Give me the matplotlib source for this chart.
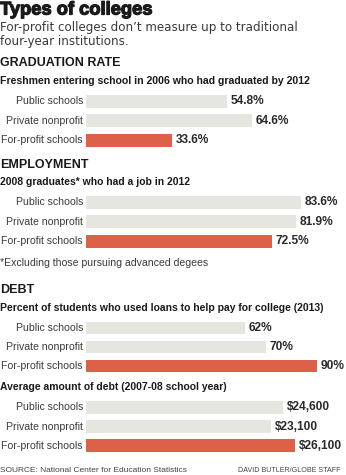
import matplotlib.pyplot as plt
import matplotlib.patheffects as pe

# chart data
categories = ["Public schools", "Private nonprofit", "For-profit schools"]
grad_rate = [54.8, 64.6, 33.6]
employment = [83.6, 81.9, 72.5]
loan_pct = [62, 70, 90]
avg_debt = [24600, 23100, 26100]

grad_labels = ["54.8%", "64.6%", "33.6%"]
emp_labels = ["83.6%", "81.9%", "72.5%"]
loan_labels = ["62%", "70%", "90%"]
debt_labels = ["$24,600", "$23,100", "$26,100"]

W, H = 346, 475
GRAY = "#e6e6e0"
RED = "#dd6049"
DARK = "#1a1a1a"
MID = "#3a3a3a"

plt.rcParams["font.family"] = ["Liberation Sans", "DejaVu Sans"]

fig = plt.figure(figsize=(W / 100, H / 100), dpi=100)
fig.patch.set_facecolor("white")


def fx(px):
    return px / W


def fy(py):
    return 1 - py / H


def put(x, y, s, **kw):
    return fig.text(fx(x), fy(y), s, va="center", **kw)


def bars(top, bottom, values, labels, xmax):
    # one small axes per group, x starts where the bars start
    left = 86
    ax = fig.add_axes([fx(left), fy(bottom), fx(W - left), (bottom - top) / H])
    colors = [GRAY, GRAY, RED]
    ypos = range(len(values))
    ax.barh(ypos, values, height=0.68, color=colors)
    for y, v, lab in zip(ypos, values, labels):
        ax.text(v + xmax * 0.014, y, lab, va="center", ha="left",
                fontsize=8.6, fontweight="bold", color="#2a2a2a")
    ax.set_xlim(0, xmax)
    ax.set_ylim(2.5, -0.5)
    ax.axis("off")
    for y, c in zip(ypos, categories):
        ax.text(-xmax * 0.012, y, c, va="center", ha="right",
                fontsize=7.6, color=MID)


# titles
title = put(0, 10, "Types of colleges", fontsize=13.2, fontweight="bold",
            color=DARK, family=["Liberation Sans Narrow", "Liberation Sans"])
title.set_path_effects([pe.withStroke(linewidth=0.9, foreground=DARK)])
put(0, 27, "For-profit colleges don\u2019t measure up to traditional",
    fontsize=8.6, color=MID, family=["DejaVu Sans"])
put(0, 41, "four-year institutions.", fontsize=8.6, color=MID,
    family=["DejaVu Sans"])

# graduation rate
put(0, 63, "GRADUATION RATE", fontsize=9, fontweight="bold", color=DARK)
put(0, 81, "Freshmen entering school in 2006 who had graduated by 2012",
    fontsize=7.6, fontweight="bold", color=DARK)
bars(91.5, 150, grad_rate, grad_labels, 101.2)

# employment
put(0, 165, "EMPLOYMENT", fontsize=9, fontweight="bold", color=DARK)
put(0, 182, "2008 graduates* who had a job in 2012",
    fontsize=7.5, fontweight="bold", color=DARK)
bars(192.5, 251, employment, emp_labels, 101.2)
put(0, 263, "*Excluding those pursuing advanced degees", fontsize=7.6,
    color=MID)

# debt
put(0, 290, "DEBT", fontsize=9, fontweight="bold", color=DARK)
put(0, 308, "Percent of students who used loans to help pay for college (2013)",
    fontsize=7.5, fontweight="bold", color=DARK)
bars(318.5, 375.5, loan_pct, loan_labels, 101.2)
put(0, 387, "Average amount of debt (2007-08 school year)",
    fontsize=7.5, fontweight="bold", color=DARK)
bars(397.5, 455.5, avg_debt, debt_labels, 32400)

# credits
put(0, 470, "SOURCE: National Center for Education Statistics",
    fontsize=6.0, color="#444444")
put(340, 470, "DAVID BUTLER/GLOBE STAFF", fontsize=5.1, color="#444444",
    ha="right")

fig.savefig("out.png", dpi=100, facecolor="white")
